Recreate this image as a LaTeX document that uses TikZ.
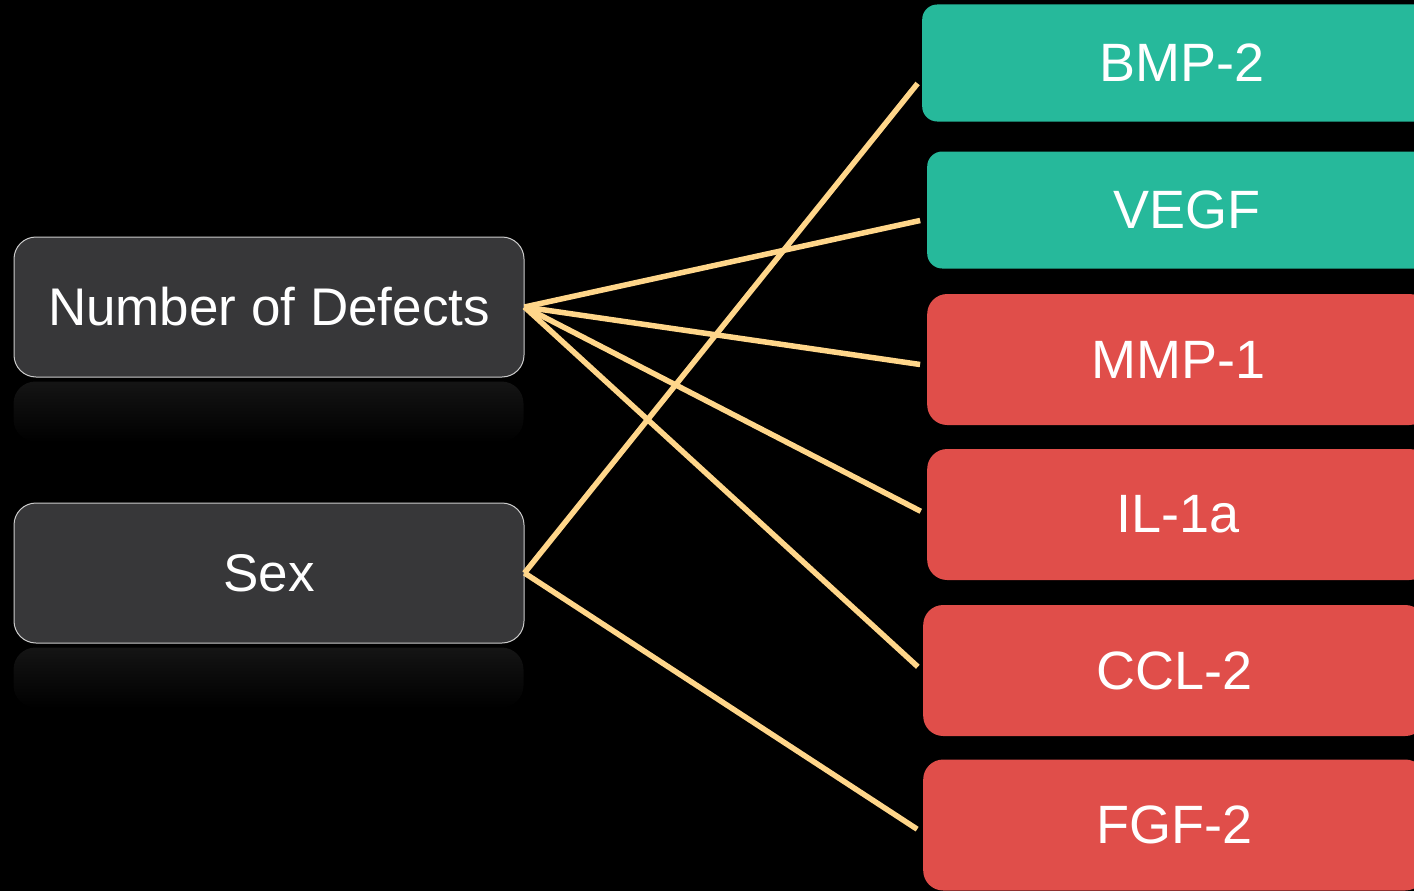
\documentclass[tikz,border=0pt]{standalone}
\usepackage{fontspec}
\setmainfont{Liberation Sans}
\definecolor{boxgrey}{HTML}{373739}
\definecolor{upteal}{HTML}{26B99B}
\definecolor{downred}{HTML}{E04E4A}
\definecolor{linkpeach}{HTML}{FFD68A}
\begin{document}
\begin{tikzpicture}[x=1pt,y=-1pt,
    factor/.style={draw=white!80!black, line width=1pt, fill=boxgrey,
      rounded corners=22pt, minimum width=510pt, minimum height=140pt,
      text=white, font=\fontsize{53}{60}\selectfont},
    marker/.style={anchor=west, rounded corners=20pt, minimum width=520pt,
      text=white, font=\fontsize{54}{60}\selectfont},
    upmarker/.style={marker, fill=upteal, minimum height=117pt, rounded corners=15pt},
    downmarker/.style={marker, fill=downred, minimum height=131pt, minimum width=502pt},
    link/.style={draw=linkpeach, line width=5.5pt, shorten >=7pt}]
  \fill[black] (0,0) rectangle (1414,891);
  \clip (0,0) rectangle (1414,891);

  % factors on the left
  \node[factor] (defects) at (269,307) {Number of Defects};
  \node[factor] (sex) at (269,573) {Sex};
  \shade[top color=white!8!black, bottom color=black, rounded corners=22pt]
    ([yshift=-4pt]defects.south west) rectangle ++(510,60);
  \shade[top color=white!8!black, bottom color=black, rounded corners=22pt]
    ([yshift=-4pt]sex.south west) rectangle ++(510,60);

  % markers on the right
  \node[upmarker] (bmp) at (922,63) {BMP-2};
  \node[upmarker] (vegf) at (927,210) {VEGF};
  \node[downmarker] (mmp) at (927,359.5) {MMP-1};
  \node[downmarker] (il) at (927,514.5) {IL-1a};
  \node[downmarker] (ccl) at (923,670.5) {CCL-2};
  \node[downmarker] (fgf) at (923,825) {FGF-2};

  % links
  \draw[link] (defects.east) -- ([yshift=-9pt]vegf.west);
  \draw[link] (defects.east) -- ([yshift=-6pt]mmp.west);
  \draw[link] (defects.east) -- (il.west);
  \draw[link] (defects.east) -- ([yshift=-1pt]ccl.west);
  \draw[link] (sex.east) -- ([yshift=-15pt]bmp.west);
  \draw[link] (sex.east) -- ([yshift=-8pt]fgf.west);
\end{tikzpicture}
\end{document}
